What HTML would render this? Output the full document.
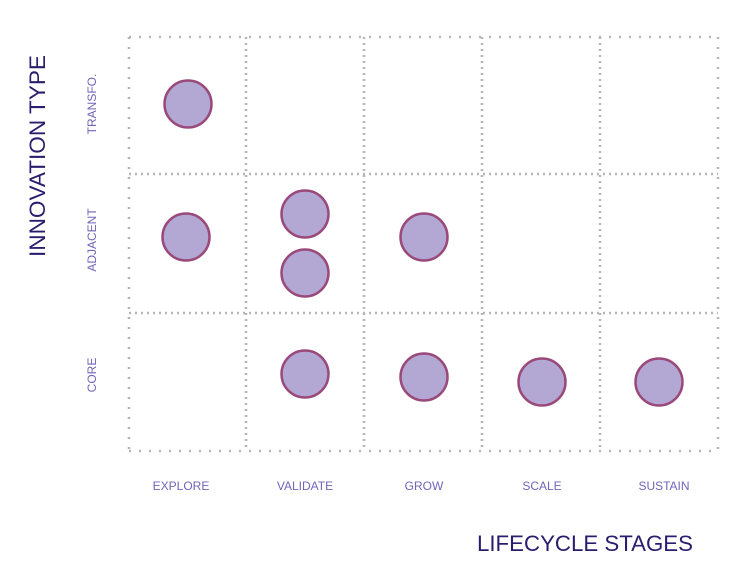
<!DOCTYPE html>
<html><head><meta charset="utf-8"><style>body{margin:0;background:#fff}svg{display:block}</style></head>
<body>
<svg width="738" height="584" xmlns="http://www.w3.org/2000/svg" font-family="Liberation Sans, sans-serif">
<g stroke="#b5b5b5" stroke-width="2.5" stroke-dasharray="2 8" fill="none">
<line x1="129" y1="37" x2="718" y2="37"/>
<line x1="129" y1="451" x2="718" y2="451"/>
<line x1="129" y1="37" x2="129" y2="451"/>
<line x1="718" y1="37" x2="718" y2="451"/>
</g>
<g stroke="#b5b5b5" stroke-width="2.5" stroke-dasharray="2 4" fill="none">
<line x1="246" y1="37" x2="246" y2="451"/>
<line x1="364" y1="37" x2="364" y2="451"/>
<line x1="482" y1="37" x2="482" y2="451"/>
<line x1="600" y1="37" x2="600" y2="451"/>
<line x1="129" y1="174" x2="718" y2="174"/>
<line x1="129" y1="313" x2="718" y2="313"/>
</g>
<g fill="#b3a7d3" stroke="#9a4a7a" stroke-width="2.5">
<circle cx="188" cy="104" r="23.5"/>
<circle cx="186" cy="237" r="23.5"/>
<circle cx="305" cy="214" r="23.5"/>
<circle cx="305" cy="273" r="23.5"/>
<circle cx="424" cy="237" r="23.5"/>
<circle cx="305" cy="374" r="23.5"/>
<circle cx="424" cy="377" r="23.5"/>
<circle cx="542" cy="382" r="23.5"/>
<circle cx="659" cy="382" r="23.5"/>
</g>
<g fill="#7264b8" font-size="12" text-anchor="middle">
<text x="181" y="490">EXPLORE</text>
<text x="305" y="490">VALIDATE</text>
<text x="424" y="490">GROW</text>
<text x="542" y="490">SCALE</text>
<text x="664" y="490">SUSTAIN</text>
<text transform="translate(96,104) rotate(-90)">TRANSFO.</text>
<text transform="translate(96,240) rotate(-90)">ADJACENT</text>
<text transform="translate(96,375) rotate(-90)">CORE</text>
</g>
<g fill="#2b1d6e" font-size="22">
<text x="477" y="551" textLength="216" lengthAdjust="spacingAndGlyphs">LIFECYCLE STAGES</text>
<text transform="translate(45,257) rotate(-90)" textLength="202" lengthAdjust="spacingAndGlyphs">INNOVATION TYPE</text>
</g>
</svg>
</body></html>
